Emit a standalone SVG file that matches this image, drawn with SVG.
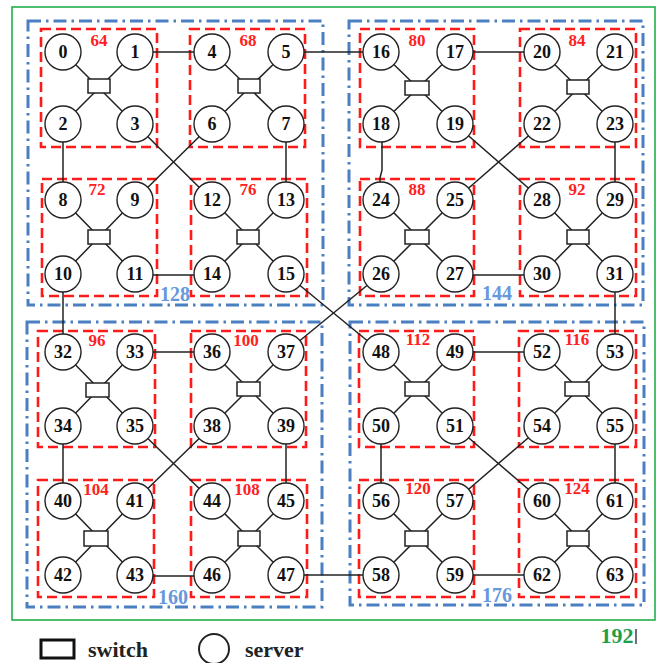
<svg xmlns="http://www.w3.org/2000/svg" width="659" height="663" viewBox="0 0 659 663">
<style>
.bg{fill:#fff}
.green{fill:none;stroke:#22b04b;stroke-width:1.6}
.blue{fill:none;stroke:#4a7fc1;stroke-width:3;stroke-dasharray:13 5 2.5 5}
.red{fill:none;stroke:#ff1a1a;stroke-width:2.6;stroke-dasharray:10 5}
.ln{fill:none;stroke:#222;stroke-width:1.5}
.srv{fill:#fff;stroke:#222;stroke-width:1.4}
.sw{fill:#fff;stroke:#222;stroke-width:1.5}
.num{font-family:"Liberation Serif","Times New Roman",serif;font-weight:bold;font-size:18px;fill:#111;text-anchor:middle}
.rl{font-family:"Liberation Serif","Times New Roman",serif;font-weight:bold;font-size:17px;fill:#ff2020;text-anchor:middle}
.bl{font-family:"Liberation Serif","Times New Roman",serif;font-weight:bold;font-size:20px;fill:#6798dc;text-anchor:middle}
.gl{font-family:"Liberation Serif","Times New Roman",serif;font-weight:bold;font-size:22px;fill:#1f9e48;text-anchor:middle}
.lg{font-family:"Liberation Serif","Times New Roman",serif;font-weight:bold;font-size:22px;fill:#222}
</style>
<rect class="bg" x="0" y="0" width="659" height="663"/>
<rect class="green" x="12" y="7" width="643" height="613"/>
<g id="pods">
<rect class="blue" x="28" y="21" width="295" height="284"/>
<rect class="blue" x="349" y="21" width="294" height="284"/>
<rect class="blue" x="27" y="322" width="295" height="285"/>
<rect class="blue" x="350" y="322" width="294" height="283"/>
<rect class="red" x="41" y="29" width="116" height="118"/>
<rect class="red" x="190" y="29" width="115" height="118"/>
<rect class="red" x="42" y="179" width="115" height="117"/>
<rect class="red" x="191" y="179" width="116" height="117"/>
<rect class="red" x="360" y="29" width="114" height="118"/>
<rect class="red" x="520" y="29" width="116" height="118"/>
<rect class="red" x="360" y="179" width="114" height="117"/>
<rect class="red" x="520" y="179" width="116" height="117"/>
<rect class="red" x="38" y="331" width="117" height="116"/>
<rect class="red" x="191" y="331" width="115" height="116"/>
<rect class="red" x="38" y="480" width="116" height="117"/>
<rect class="red" x="191" y="480" width="116" height="117"/>
<rect class="red" x="359" y="331" width="115" height="116"/>
<rect class="red" x="519" y="331" width="117" height="116"/>
<rect class="red" x="359" y="480" width="115" height="117"/>
<rect class="red" x="519" y="480" width="117" height="117"/>
<text class="rl" x="99" y="46">64</text>
<text class="rl" x="248" y="46">68</text>
<text class="rl" x="97" y="195">72</text>
<text class="rl" x="248" y="195">76</text>
<text class="rl" x="417" y="46">80</text>
<text class="rl" x="577" y="46">84</text>
<text class="rl" x="417" y="195">88</text>
<text class="rl" x="577" y="195">92</text>
<text class="rl" x="97" y="346">96</text>
<text class="rl" x="246" y="346">100</text>
<text class="rl" x="96" y="495">104</text>
<text class="rl" x="247" y="495">108</text>
<text class="rl" x="418" y="345">112</text>
<text class="rl" x="577" y="345">116</text>
<text class="rl" x="418" y="494">120</text>
<text class="rl" x="577" y="494">124</text>
<text class="bl" x="175" y="301">128</text>
<text class="bl" x="497" y="300">144</text>
<text class="bl" x="173" y="604">160</text>
<text class="bl" x="497" y="602">176</text>
<text class="gl" x="617" y="643">192</text>
<line x1="636" y1="629" x2="636" y2="644" stroke="#111" stroke-width="1.2"/>
</g>
<g id="connectors">
<path class="ln" d="M63,52 L135,124 M135,52 L63,124"/>
<path class="ln" d="M212,52 L286,124 M286,52 L212,124"/>
<path class="ln" d="M63,200 L135,274 M135,200 L63,274"/>
<path class="ln" d="M212,200 L286,274 M286,200 L212,274"/>
<path class="ln" d="M381,52 L455,124 M455,52 L381,124"/>
<path class="ln" d="M542,52 L615,124 M615,52 L542,124"/>
<path class="ln" d="M381,200 L455,274 M455,200 L381,274"/>
<path class="ln" d="M542,200 L615,274 M615,200 L542,274"/>
<path class="ln" d="M63,352 L135,426 M135,352 L63,426"/>
<path class="ln" d="M212,352 L286,426 M286,352 L212,426"/>
<path class="ln" d="M63,501 L135,575 M135,501 L63,575"/>
<path class="ln" d="M212,501 L286,575 M286,501 L212,575"/>
<path class="ln" d="M381,352 L455,426 M455,352 L381,426"/>
<path class="ln" d="M542,352 L615,426 M615,352 L542,426"/>
<path class="ln" d="M381,501 L455,575 M455,501 L381,575"/>
<path class="ln" d="M542,501 L615,575 M615,501 L542,575"/>
<path class="ln" d="M135,52 H212"/>
<path class="ln" d="M286,52 H381"/>
<path class="ln" d="M455,52 H542"/>
<path class="ln" d="M63,124 V200"/>
<path class="ln" d="M286,124 V200"/>
<path class="ln" d="M382,124 V170 L380,178 V200"/>
<path class="ln" d="M615,124 V200"/>
<path class="ln" d="M135,124 L212,200"/>
<path class="ln" d="M212,124 L135,200"/>
<path class="ln" d="M455,124 L542,200"/>
<path class="ln" d="M542,124 L455,200"/>
<path class="ln" d="M135,275 H212"/>
<path class="ln" d="M455,275 H542"/>
<path class="ln" d="M63,274 V352"/>
<path class="ln" d="M615,274 V352"/>
<path class="ln" d="M286,274 L381,352"/>
<path class="ln" d="M381,274 L286,352"/>
<path class="ln" d="M135,352 H212"/>
<path class="ln" d="M455,352 H542"/>
<path class="ln" d="M63,426 V501"/>
<path class="ln" d="M286,426 V501"/>
<path class="ln" d="M381,426 V501"/>
<path class="ln" d="M615,426 V501"/>
<path class="ln" d="M135,426 L212,501"/>
<path class="ln" d="M212,426 L135,501"/>
<path class="ln" d="M455,426 L542,501"/>
<path class="ln" d="M542,426 L455,501"/>
<path class="ln" d="M135,576 H212"/>
<path class="ln" d="M286,575 H381"/>
<path class="ln" d="M455,575 H542"/>
</g>
<g id="switches">
<rect id="sw64" class="sw" x="88" y="79" width="22" height="14"/>
<rect id="sw68" class="sw" x="238" y="79" width="22" height="14"/>
<rect id="sw72" class="sw" x="88" y="230" width="22" height="14"/>
<rect id="sw76" class="sw" x="237" y="230" width="22" height="14"/>
<rect id="sw80" class="sw" x="405" y="81" width="24" height="14"/>
<rect id="sw84" class="sw" x="567" y="80" width="22" height="14"/>
<rect id="sw88" class="sw" x="405" y="230" width="24" height="14"/>
<rect id="sw92" class="sw" x="567" y="230" width="22" height="14"/>
<rect id="sw96" class="sw" x="86" y="383" width="23" height="14"/>
<rect id="sw100" class="sw" x="237" y="382" width="23" height="14"/>
<rect id="sw104" class="sw" x="84" y="531" width="24" height="15"/>
<rect id="sw108" class="sw" x="238" y="531" width="22" height="15"/>
<rect id="sw112" class="sw" x="405" y="382" width="24" height="14"/>
<rect id="sw116" class="sw" x="565" y="382" width="24" height="14"/>
<rect id="sw120" class="sw" x="405" y="531" width="23" height="15"/>
<rect id="sw124" class="sw" x="567" y="531" width="22" height="15"/>
</g>
<g id="servers">
<g id="n0"><circle class="srv" cx="63" cy="52" r="18"/><text class="num" x="63" y="58">0</text></g>
<g id="n1"><circle class="srv" cx="135" cy="52" r="18"/><text class="num" x="135" y="58">1</text></g>
<g id="n2"><circle class="srv" cx="63" cy="124" r="18"/><text class="num" x="63" y="130">2</text></g>
<g id="n3"><circle class="srv" cx="135" cy="124" r="18"/><text class="num" x="135" y="130">3</text></g>
<g id="n4"><circle class="srv" cx="212" cy="52" r="18"/><text class="num" x="212" y="58">4</text></g>
<g id="n5"><circle class="srv" cx="286" cy="52" r="18"/><text class="num" x="286" y="58">5</text></g>
<g id="n6"><circle class="srv" cx="212" cy="124" r="18"/><text class="num" x="212" y="130">6</text></g>
<g id="n7"><circle class="srv" cx="286" cy="124" r="18"/><text class="num" x="286" y="130">7</text></g>
<g id="n8"><circle class="srv" cx="63" cy="200" r="18"/><text class="num" x="63" y="206">8</text></g>
<g id="n9"><circle class="srv" cx="135" cy="200" r="18"/><text class="num" x="135" y="206">9</text></g>
<g id="n10"><circle class="srv" cx="63" cy="274" r="18"/><text class="num" x="63" y="280">10</text></g>
<g id="n11"><circle class="srv" cx="135" cy="274" r="18"/><text class="num" x="135" y="280">11</text></g>
<g id="n12"><circle class="srv" cx="212" cy="200" r="18"/><text class="num" x="212" y="206">12</text></g>
<g id="n13"><circle class="srv" cx="286" cy="200" r="18"/><text class="num" x="286" y="206">13</text></g>
<g id="n14"><circle class="srv" cx="212" cy="274" r="18"/><text class="num" x="212" y="280">14</text></g>
<g id="n15"><circle class="srv" cx="286" cy="274" r="18"/><text class="num" x="286" y="280">15</text></g>
<g id="n16"><circle class="srv" cx="381" cy="52" r="18"/><text class="num" x="381" y="58">16</text></g>
<g id="n17"><circle class="srv" cx="455" cy="52" r="18"/><text class="num" x="455" y="58">17</text></g>
<g id="n18"><circle class="srv" cx="381" cy="124" r="18"/><text class="num" x="381" y="130">18</text></g>
<g id="n19"><circle class="srv" cx="455" cy="124" r="18"/><text class="num" x="455" y="130">19</text></g>
<g id="n20"><circle class="srv" cx="542" cy="52" r="18"/><text class="num" x="542" y="58">20</text></g>
<g id="n21"><circle class="srv" cx="615" cy="52" r="18"/><text class="num" x="615" y="58">21</text></g>
<g id="n22"><circle class="srv" cx="542" cy="124" r="18"/><text class="num" x="542" y="130">22</text></g>
<g id="n23"><circle class="srv" cx="615" cy="124" r="18"/><text class="num" x="615" y="130">23</text></g>
<g id="n24"><circle class="srv" cx="381" cy="200" r="18"/><text class="num" x="381" y="206">24</text></g>
<g id="n25"><circle class="srv" cx="455" cy="200" r="18"/><text class="num" x="455" y="206">25</text></g>
<g id="n26"><circle class="srv" cx="381" cy="274" r="18"/><text class="num" x="381" y="280">26</text></g>
<g id="n27"><circle class="srv" cx="455" cy="274" r="18"/><text class="num" x="455" y="280">27</text></g>
<g id="n28"><circle class="srv" cx="542" cy="200" r="18"/><text class="num" x="542" y="206">28</text></g>
<g id="n29"><circle class="srv" cx="615" cy="200" r="18"/><text class="num" x="615" y="206">29</text></g>
<g id="n30"><circle class="srv" cx="542" cy="274" r="18"/><text class="num" x="542" y="280">30</text></g>
<g id="n31"><circle class="srv" cx="615" cy="274" r="18"/><text class="num" x="615" y="280">31</text></g>
<g id="n32"><circle class="srv" cx="63" cy="352" r="18"/><text class="num" x="63" y="358">32</text></g>
<g id="n33"><circle class="srv" cx="135" cy="352" r="18"/><text class="num" x="135" y="358">33</text></g>
<g id="n34"><circle class="srv" cx="63" cy="426" r="18"/><text class="num" x="63" y="432">34</text></g>
<g id="n35"><circle class="srv" cx="135" cy="426" r="18"/><text class="num" x="135" y="432">35</text></g>
<g id="n36"><circle class="srv" cx="212" cy="352" r="18"/><text class="num" x="212" y="358">36</text></g>
<g id="n37"><circle class="srv" cx="286" cy="352" r="18"/><text class="num" x="286" y="358">37</text></g>
<g id="n38"><circle class="srv" cx="212" cy="426" r="18"/><text class="num" x="212" y="432">38</text></g>
<g id="n39"><circle class="srv" cx="286" cy="426" r="18"/><text class="num" x="286" y="432">39</text></g>
<g id="n40"><circle class="srv" cx="63" cy="501" r="18"/><text class="num" x="63" y="507">40</text></g>
<g id="n41"><circle class="srv" cx="135" cy="501" r="18"/><text class="num" x="135" y="507">41</text></g>
<g id="n42"><circle class="srv" cx="63" cy="575" r="18"/><text class="num" x="63" y="581">42</text></g>
<g id="n43"><circle class="srv" cx="135" cy="575" r="18"/><text class="num" x="135" y="581">43</text></g>
<g id="n44"><circle class="srv" cx="212" cy="501" r="18"/><text class="num" x="212" y="507">44</text></g>
<g id="n45"><circle class="srv" cx="286" cy="501" r="18"/><text class="num" x="286" y="507">45</text></g>
<g id="n46"><circle class="srv" cx="212" cy="575" r="18"/><text class="num" x="212" y="581">46</text></g>
<g id="n47"><circle class="srv" cx="286" cy="575" r="18"/><text class="num" x="286" y="581">47</text></g>
<g id="n48"><circle class="srv" cx="381" cy="352" r="18"/><text class="num" x="381" y="358">48</text></g>
<g id="n49"><circle class="srv" cx="455" cy="352" r="18"/><text class="num" x="455" y="358">49</text></g>
<g id="n50"><circle class="srv" cx="381" cy="426" r="18"/><text class="num" x="381" y="432">50</text></g>
<g id="n51"><circle class="srv" cx="455" cy="426" r="18"/><text class="num" x="455" y="432">51</text></g>
<g id="n52"><circle class="srv" cx="542" cy="352" r="18"/><text class="num" x="542" y="358">52</text></g>
<g id="n53"><circle class="srv" cx="615" cy="352" r="18"/><text class="num" x="615" y="358">53</text></g>
<g id="n54"><circle class="srv" cx="542" cy="426" r="18"/><text class="num" x="542" y="432">54</text></g>
<g id="n55"><circle class="srv" cx="615" cy="426" r="18"/><text class="num" x="615" y="432">55</text></g>
<g id="n56"><circle class="srv" cx="381" cy="501" r="18"/><text class="num" x="381" y="507">56</text></g>
<g id="n57"><circle class="srv" cx="455" cy="501" r="18"/><text class="num" x="455" y="507">57</text></g>
<g id="n58"><circle class="srv" cx="381" cy="575" r="18"/><text class="num" x="381" y="581">58</text></g>
<g id="n59"><circle class="srv" cx="455" cy="575" r="18"/><text class="num" x="455" y="581">59</text></g>
<g id="n60"><circle class="srv" cx="542" cy="501" r="18"/><text class="num" x="542" y="507">60</text></g>
<g id="n61"><circle class="srv" cx="615" cy="501" r="18"/><text class="num" x="615" y="507">61</text></g>
<g id="n62"><circle class="srv" cx="542" cy="575" r="18"/><text class="num" x="542" y="581">62</text></g>
<g id="n63"><circle class="srv" cx="615" cy="575" r="18"/><text class="num" x="615" y="581">63</text></g>
</g>
<g id="legend">
<rect x="41" y="640" width="33" height="18" fill="#fff" stroke="#111" stroke-width="3"/>
<text class="lg" x="88" y="657">switch</text>
<circle cx="214" cy="649" r="15" fill="#fff" stroke="#222" stroke-width="2"/>
<text class="lg" x="245" y="657">server</text>
</g>
</svg>
